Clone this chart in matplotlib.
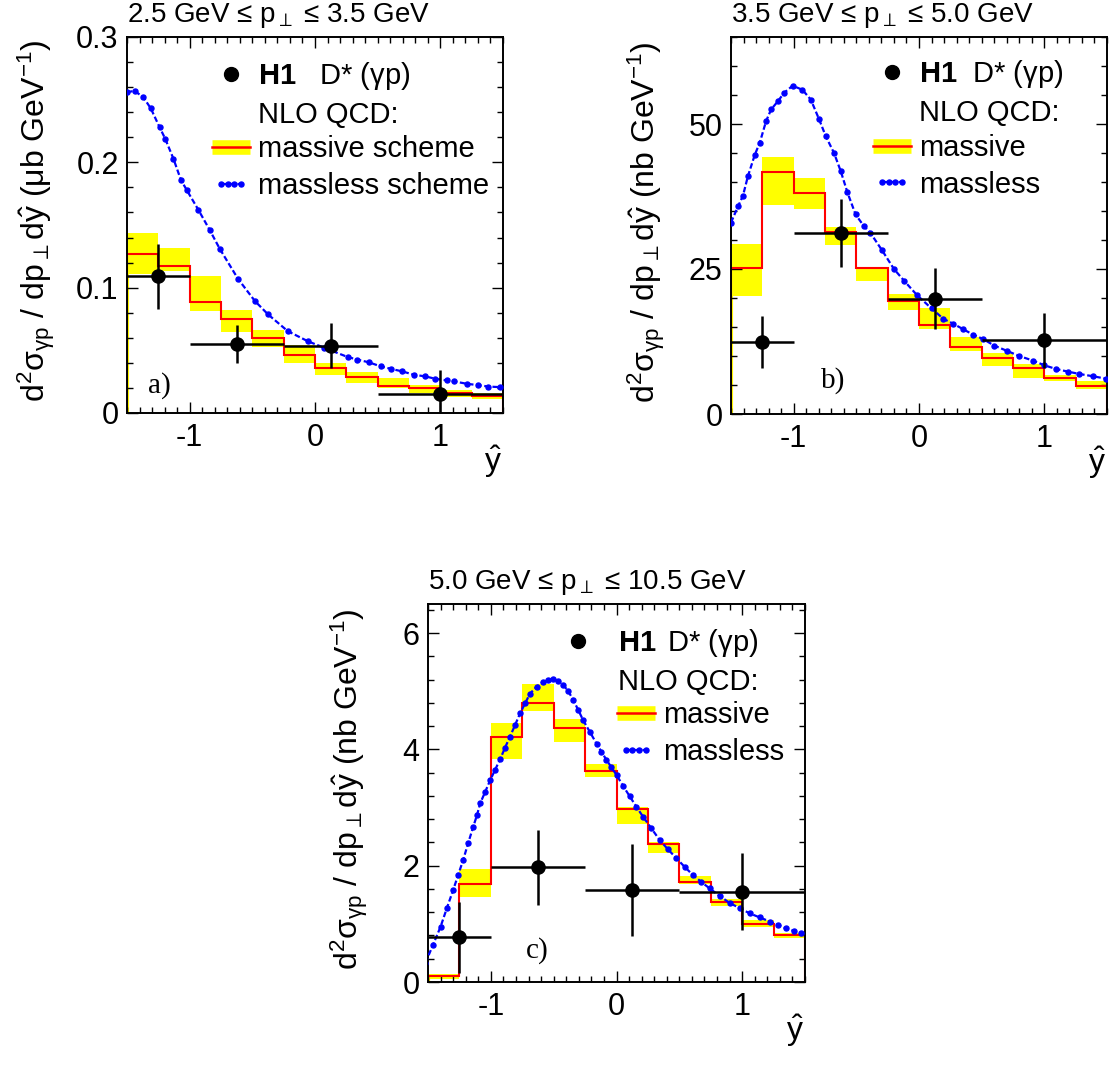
"""
H1 D* photoproduction: d2sigma / dpT dyhat in three pT bins,
compared to NLO QCD (massive band + massless curve).
"""

import matplotlib
matplotlib.use("Agg")
import matplotlib.pyplot as plt
from matplotlib.lines import Line2D
from matplotlib.legend_handler import HandlerLine2D, HandlerTuple
from matplotlib.ticker import MultipleLocator, FuncFormatter

plt.rcParams['font.family'] = ['Liberation Sans', 'DejaVu Sans']
plt.rcParams['mathtext.fontset'] = 'custom'
plt.rcParams['mathtext.rm'] = 'Liberation Sans'
plt.rcParams['mathtext.it'] = 'Liberation Sans:italic'
plt.rcParams['mathtext.bf'] = 'Liberation Sans:bold'
plt.rcParams['mathtext.default'] = 'regular'
plt.rcParams['axes.unicode_minus'] = False

# ---- shared binning -------------------------------------------------------
NLO_EDGES = [-1.5, -1.25, -1.0, -0.75, -0.5, -0.25, 0.0, 0.25, 0.5, 0.75, 1.0, 1.25, 1.5]
DATA_X = [-1.25, -0.625, 0.125, 1.0]
DATA_XLO = [0.25, 0.375, 0.375, 0.5]
DATA_XHI = [0.25, 0.375, 0.375, 0.5]

# ---- panel a: 2.5 < pT < 3.5 GeV (ub/GeV) ---------------------------------
A_MASSIVE = [0.127, 0.1175, 0.0886, 0.0752, 0.060, 0.046, 0.0359, 0.0287, 0.0217, 0.0198, 0.0158, 0.0137]
A_BAND_HI = [0.144, 0.132, 0.109, 0.082, 0.066, 0.0546, 0.040, 0.033, 0.028, 0.0225, 0.018, 0.0157]
A_BAND_LO = [0.111, 0.113, 0.081, 0.0645, 0.053, 0.040, 0.0305, 0.024, 0.020, 0.016, 0.013, 0.011]
A_DATA_Y = [0.109, 0.0552, 0.0538, 0.0153]
A_DATA_ERR = [0.026, 0.015, 0.018, 0.019]
A_ML_X = [-1.5, -1.44, -1.37, -1.31, -1.24, -1.196, -1.13, -1.07, -1.024, -0.93, -0.84, -0.76,
          -0.614, -0.48, -0.375, -0.217, -0.058, 0.074, 0.26, 0.339, 0.431, 0.524, 0.603,
          0.696, 0.79, 0.881, 0.96, 1.053, 1.11, 1.212, 1.304, 1.383, 1.48]
A_ML_Y = [0.256, 0.257, 0.252, 0.243, 0.228, 0.219, 0.203, 0.186, 0.178, 0.162, 0.146, 0.131,
          0.107, 0.0894, 0.0787, 0.0653, 0.0573, 0.052, 0.0447, 0.0426, 0.0404, 0.0372, 0.0353,
          0.0332, 0.0305, 0.0292, 0.0273, 0.026, 0.0252, 0.0233, 0.0222, 0.0211, 0.0206]

# ---- panel b: 3.5 < pT < 5.0 GeV (nb/GeV) ---------------------------------
B_MASSIVE = [25.1, 41.7, 38.1, 31.3, 25.2, 19.4, 15.4, 11.6, 9.6, 7.9, 6.25, 4.9]
B_BAND_HI = [29.3, 44.3, 40.7, 32.2, 25.4, 20.7, 18.2, 13.2, 10.5, 8.6, 6.8, 5.7]
B_BAND_LO = [20.3, 36.1, 35.4, 29.1, 22.9, 17.9, 14.7, 10.9, 8.3, 6.2, 5.7, 4.3]
B_DATA_Y = [12.4, 31.2, 19.9, 12.7]
B_DATA_ERR = [4.5, 5.8, 5.2, 4.8]
B_ML_X = [-1.5, -1.444, -1.405, -1.365, -1.31, -1.27, -1.22, -1.18, -1.127, -1.075, -1.008,
          -0.93, -0.863, -0.797, -0.744, -0.678, -0.625, -0.571, -0.506, -0.44, -0.387,
          -0.294, -0.2, -0.12, -0.016, 0.1, 0.195, 0.27, 0.354, 0.43, 0.513, 0.60, 0.70,
          0.80, 0.91, 1.0, 1.095, 1.19, 1.28, 1.39, 1.49]
B_ML_Y = [33.0, 35.8, 37.6, 41.0, 44.7, 46.8, 50.5, 52.5, 53.9, 55.4, 56.6,
          55.9, 54.2, 50.8, 47.9, 45.0, 41.9, 38.2, 34.4, 32.4, 31.2,
          28.2, 25.0, 23.0, 20.5, 18.2, 16.4, 15.6, 14.6, 13.7, 12.9, 11.8, 10.9,
          10.0, 9.2, 8.4, 7.75, 7.3, 6.9, 6.5, 6.1]

# ---- panel c: 5.0 < pT < 10.5 GeV (nb/GeV) --------------------------------
C_MASSIVE = [0.103, 1.685, 4.21, 4.80, 4.37, 3.63, 2.97, 2.37, 1.72, 1.38, 0.99, 0.80]
C_BAND_HI = [0.14, 1.94, 4.45, 5.12, 4.52, 3.75, 3.01, 2.41, 1.82, 1.42, 1.07, 0.84]
C_BAND_LO = [0.06, 1.46, 3.84, 4.66, 4.12, 3.53, 2.72, 2.22, 1.68, 1.31, 0.95, 0.75]
C_DATA_Y = [0.77, 1.97, 1.58, 1.55]
C_DATA_ERR = [0.61, 0.64, 0.79, 0.66]
C_ML_X = [-1.52, -1.46, -1.40, -1.35, -1.30, -1.26, -1.22, -1.18, -1.14, -1.11, -1.085, -1.045,
          -1.005, -0.966, -0.926, -0.887, -0.847, -0.807, -0.767, -0.728, -0.688, -0.635,
          -0.582, -0.543, -0.503, -0.464, -0.424, -0.384, -0.344, -0.305, -0.265, -0.212,
          -0.159, -0.12, -0.08, -0.04, 0.0, 0.053, 0.106, 0.159, 0.212, 0.278, 0.344, 0.41,
          0.476, 0.542, 0.608, 0.675, 0.741, 0.82, 0.9, 0.98, 1.06, 1.14, 1.22, 1.285, 1.35,
          1.41, 1.47]
C_ML_Y = [0.33, 0.64, 0.95, 1.27, 1.58, 1.84, 2.10, 2.39, 2.67, 2.87, 3.07, 3.27,
          3.47, 3.65, 3.83, 4.03, 4.22, 4.42, 4.62, 4.79, 4.96, 5.08,
          5.16, 5.20, 5.21, 5.18, 5.11, 5.00, 4.85, 4.68, 4.50, 4.30,
          4.10, 3.96, 3.82, 3.69, 3.56, 3.37, 3.19, 3.01, 2.84, 2.64, 2.44, 2.28,
          2.13, 1.98, 1.84, 1.72, 1.61, 1.48, 1.36, 1.27, 1.18, 1.11, 1.04, 0.98, 0.92,
          0.88, 0.84]

PANELS = [
    dict(rect=[127/1110, 1-413/1080, 376/1110, 376/1080], massive=A_MASSIVE, hi=A_BAND_HI, lo=A_BAND_LO,
         data=A_DATA_Y, err=A_DATA_ERR, mlx=A_ML_X, mly=A_ML_Y, ymax=0.3, major=0.1, minor=0.02,
         unit='μb', title='2.5 GeV ≤ p$_{\\perp}$ ≤ 3.5 GeV', tag='a)', tagpos=(0.055, 0.072),
         h1='$\\mathbf{H1}$   D* (γp)', names=['massive scheme', 'massless scheme'],
         leg_top=(0.226, 0.939), top_pad=0.27, leg_bot=(0.226, 0.739), ylab_x=-0.186),
    dict(rect=[731/1110, 1-414/1080, 376/1110, 377/1080], massive=B_MASSIVE, hi=B_BAND_HI, lo=B_BAND_LO,
         data=B_DATA_Y, err=B_DATA_ERR, mlx=B_ML_X, mly=B_ML_Y, ymax=65, major=25, minor=5,
         unit='nb', title='3.5 GeV ≤ p$_{\\perp}$ ≤ 5.0 GeV', tag='b)', tagpos=(0.24, 0.088),
         h1='$\\mathbf{H1}$  D* (γp)', names=['massive', 'massless'],
         leg_top=(0.378, 0.944), top_pad=0.27, leg_bot=(0.378, 0.743), ylab_x=-0.17),
    dict(rect=[428/1110, 1-982/1080, 377/1110, 378/1080], massive=C_MASSIVE, hi=C_BAND_HI, lo=C_BAND_LO,
         data=C_DATA_Y, err=C_DATA_ERR, mlx=C_ML_X, mly=C_ML_Y, ymax=6.5, major=2, minor=0.4,
         unit='nb', title='5.0 GeV ≤ p$_{\\perp}$ ≤ 10.5 GeV', tag='c)', tagpos=(0.26, 0.082),
         h1='$\\mathbf{H1}\\,$ D* (γp)', names=['massive', 'massless'],
         leg_top=(0.3475, 0.939), top_pad=0.72, leg_bot=(0.501, 0.743), ylab_x=-0.154),
]


def draw_panel(fig, p):
    ax = fig.add_axes(p['rect'])

    # NLO massive: uncertainty band + central histogram
    ax.fill_between(NLO_EDGES, p['lo'] + [p['lo'][-1]], p['hi'] + [p['hi'][-1]],
                    step='post', color='#ffff00', lw=0, zorder=1)
    ax.vlines(NLO_EDGES[0], 0, p['hi'][0], color='#ffff00', lw=3, zorder=1)
    ax.stairs(p['massive'], NLO_EDGES, color='red', lw=1.5, zorder=2)

    # NLO massless curve
    ax.plot(p['mlx'], p['mly'], color='#0000ff', lw=1.6, ls=(0, (2.5, 1.2)),
            marker='o', ms=3.6, zorder=3)

    # H1 data
    ax.errorbar(DATA_X, p['data'], xerr=[DATA_XLO, DATA_XHI], yerr=p['err'],
                fmt='o', color='black', ms=9.5, elinewidth=1.8, capsize=0, zorder=4)

    ax.set_xlim(-1.5, 1.5)
    ax.set_ylim(0, p['ymax'])
    ax.xaxis.set_major_locator(MultipleLocator(1))
    ax.xaxis.set_minor_locator(MultipleLocator(0.1))
    ax.yaxis.set_major_locator(MultipleLocator(p['major']))
    ax.yaxis.set_minor_locator(MultipleLocator(p['minor']))
    ax.xaxis.set_major_formatter(FuncFormatter(lambda v, _: '{:g}'.format(v)))
    ax.yaxis.set_major_formatter(FuncFormatter(lambda v, _: '{:g}'.format(round(v, 3))))
    ax.tick_params(which='both', direction='in', top=True, right=True, labelsize=22, width=1)
    ax.tick_params(which='major', length=8)
    ax.tick_params(which='minor', length=4)
    ax.tick_params(axis='x', pad=7)
    ax.tick_params(axis='y', pad=6)
    for s in ax.spines.values():
        s.set_linewidth(1.4)

    ax.set_ylabel('d$^{2}$σ$_{γp}$ / dp$_{\\perp}$d$\\hat{y}$ (' + p['unit'] + ' GeV$^{-1}$)',
                  fontsize=23)
    ax.yaxis.set_label_coords(p['ylab_x'], 0.51)
    ax.text(0.973, -0.13, '$\\hat{y}$', transform=ax.transAxes, fontsize=23,
            ha='center', va='center')
    ax.text(0.0, 1.04, p['title'], transform=ax.transAxes, fontsize=20,
            ha='left', va='baseline')
    ax.text(p['tagpos'][0], p['tagpos'][1], p['tag'], transform=ax.transAxes,
            fontsize=21, family='Liberation Serif', ha='left', va='center')

    # legend: data + header block, then the two NLO entries
    h_data = Line2D([], [], ls='none', marker='o', color='black', ms=10)
    h_head = Line2D([], [], ls='none')
    h_band = (Line2D([], [], color='#ffff00', lw=10.5, solid_capstyle='butt'),
              Line2D([], [], color='red', lw=1.8))
    h_ml = Line2D([], [], color='#0000ff', lw=1.6, ls=(0, (2.5, 1.2)), marker='o', ms=3.6)
    common = dict(loc='upper left', frameon=False, fontsize=21, borderpad=0,
                  borderaxespad=0, handlelength=1.3, labelspacing=0.3)
    leg1 = ax.legend([h_data, h_head], [p['h1'], 'NLO QCD:'],
                     handler_map={h_data: HandlerLine2D(numpoints=1)},
                     bbox_to_anchor=p['leg_top'], handletextpad=p['top_pad'], **common)
    ax.add_artist(leg1)
    ax.legend([h_band, h_ml], p['names'],
              handler_map={h_ml: HandlerLine2D(numpoints=4),
                           tuple: HandlerTuple(ndivide=1)},
              bbox_to_anchor=p['leg_bot'], handletextpad=0.27, **common)
    return ax


fig = plt.figure(figsize=(11.1, 10.8), dpi=100)
for panel in PANELS:
    draw_panel(fig, panel)
fig.savefig('out.png', dpi=100, facecolor='white')
plt.close(fig)
